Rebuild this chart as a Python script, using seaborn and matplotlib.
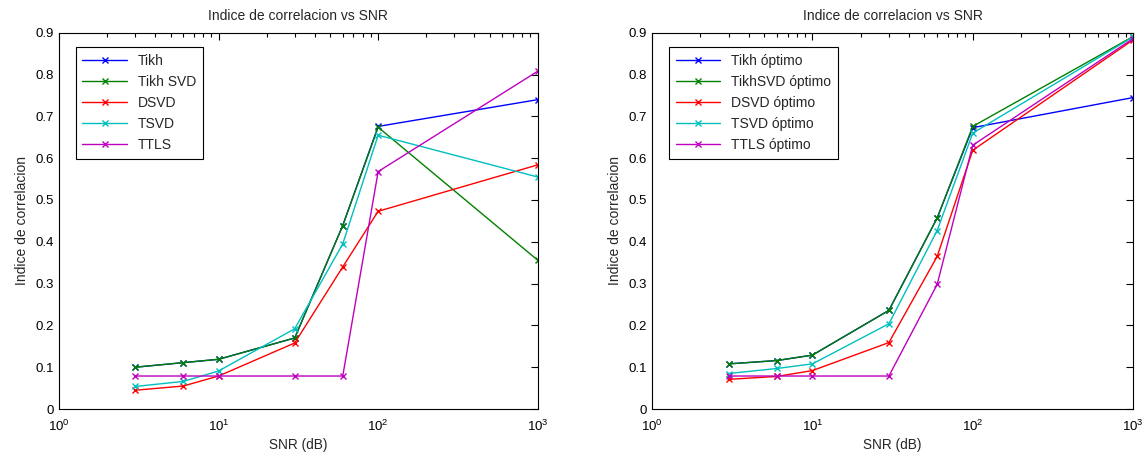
import numpy as np
import pandas as pd
import matplotlib
matplotlib.use("Agg")
import matplotlib.pyplot as plt
import seaborn as sns
from matplotlib.ticker import LogLocator, FixedLocator, NullFormatter

# SNR levels (dB) shared by both panels
snr = [3, 6, 10, 30, 60, 100, 1000]

# Left panel: fixed regularisation
tikh = [0.100, 0.111, 0.119, 0.170, 0.439, 0.676, 0.740]
tikh_svd = [0.100, 0.111, 0.119, 0.170, 0.439, 0.674, 0.356]
dsvd = [0.045, 0.055, 0.079, 0.158, 0.340, 0.473, 0.584]
tsvd = [0.054, 0.066, 0.091, 0.192, 0.395, 0.655, 0.555]
ttls = [0.079, 0.079, 0.079, 0.079, 0.079, 0.568, 0.808]
left_labels = ["Tikh", "Tikh SVD", "DSVD", "TSVD", "TTLS"]

# Right panel: optimal regularisation
tikh_opt = [0.108, 0.116, 0.129, 0.236, 0.457, 0.673, 0.745]
tikh_svd_opt = [0.108, 0.116, 0.129, 0.236, 0.457, 0.676, 0.891]
dsvd_opt = [0.071, 0.078, 0.092, 0.159, 0.365, 0.619, 0.883]
tsvd_opt = [0.085, 0.097, 0.108, 0.204, 0.427, 0.660, 0.890]
ttls_opt = [0.079, 0.079, 0.079, 0.079, 0.298, 0.631, 0.886]
right_labels = ["Tikh óptimo", "TikhSVD óptimo", "DSVD óptimo", "TSVD óptimo", "TTLS óptimo"]

yticks = [0, 0.1, 0.2, 0.3, 0.4, 0.5, 0.6, 0.7, 0.8, 0.9]
ytick_labels = ["0", "0.1", "0.2", "0.3", "0.4", "0.5", "0.6", "0.7", "0.8", "0.9"]
xticks = [1, 10, 100, 1000]
xtick_labels = ["$10^0$", "$10^1$", "$10^2$", "$10^3$"]

colors = ["#0000ff", "#008000", "#ff0000", "#00bfbf", "#bf00bf"]

sns.set_style("white")
plt.rcParams["font.family"] = ["Liberation Sans", "DejaVu Sans"]
plt.rcParams["mathtext.fontset"] = "custom"
plt.rcParams["mathtext.rm"] = "Liberation Sans"
plt.rcParams["mathtext.it"] = "Liberation Sans"


def long_frame(series, labels):
    rows = []
    for lab, vals in zip(labels, series):
        for x, v in zip(snr, vals):
            rows.append({"snr": x, "val": v, "metodo": lab})
    return pd.DataFrame(rows)


def draw(ax, series, labels):
    df = long_frame(series, labels)
    sns.lineplot(data=df, x="snr", y="val", hue="metodo", hue_order=labels,
                 palette=colors, marker="x", markersize=5, markeredgewidth=1.0,
                 linewidth=1.0, ax=ax, legend=False, sort=False)
    # crosses take the colour of their own line
    for ln in ax.get_lines():
        ln.set_markeredgecolor(ln.get_color())
        ln.set_markerfacecolor(ln.get_color())
    ax.set_xscale("log")
    ax.set_xlim(1, 1000)
    ax.set_ylim(0, 0.9)
    ax.set_xticks(xticks)
    ax.set_xticklabels(xtick_labels)
    ax.xaxis.set_minor_locator(LogLocator(base=10, subs=np.arange(2, 10)))
    ax.xaxis.set_minor_formatter(NullFormatter())
    ax.yaxis.set_major_locator(FixedLocator(yticks))
    ax.set_yticklabels(ytick_labels)
    ax.tick_params(which="both", direction="in", top=True, right=True,
                   labelsize=9.5, colors="black", width=0.8)
    ax.tick_params(which="major", length=5)
    ax.tick_params(which="minor", length=3)
    ax.tick_params(axis="x", which="major", pad=7)
    for s in ax.spines.values():
        s.set_color("black")
        s.set_linewidth(0.8)
    ax.set_xlabel("SNR (dB)", fontsize=9.8, labelpad=3)
    ax.set_ylabel("Indice de correlacion", fontsize=10, labelpad=5)
    ax.set_title("Indice de correlacion vs SNR", fontsize=10, pad=9)
    handles = ax.get_lines()[:len(labels)]
    leg = ax.legend(handles, labels, loc="upper left", fontsize=10,
                    handlelength=3.2, fancybox=False, framealpha=1,
                    edgecolor="black", borderpad=0.5, labelspacing=0.5,
                    bbox_to_anchor=(0.02, 0.98))
    leg.get_frame().set_linewidth(0.8)


fig = plt.figure(figsize=(11.48, 4.55), dpi=100)
ax1 = fig.add_axes([0.0514, 0.101, 0.417, 0.827])
ax2 = fig.add_axes([0.568, 0.101, 0.419, 0.827])

draw(ax1, [tikh, tikh_svd, dsvd, tsvd, ttls], left_labels)
draw(ax2, [tikh_opt, tikh_svd_opt, dsvd_opt, tsvd_opt, ttls_opt], right_labels)

fig.savefig("out.png", dpi=100)
